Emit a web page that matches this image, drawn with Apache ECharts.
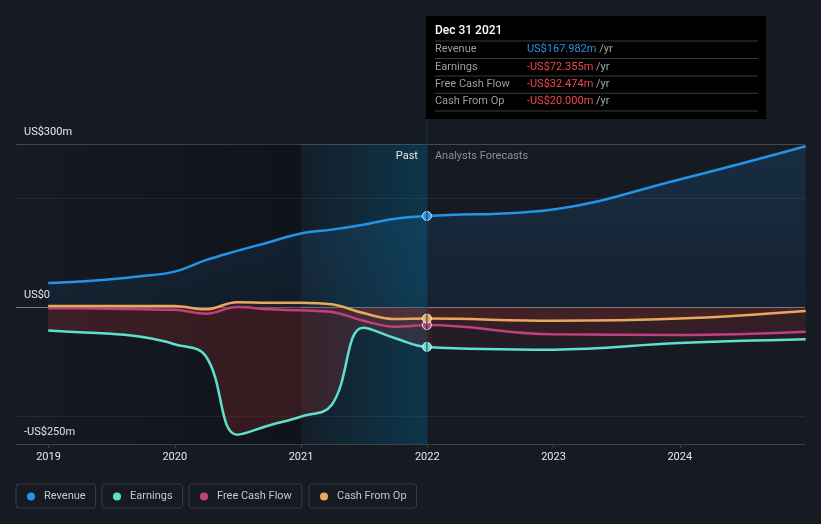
<!DOCTYPE html>
<html><head><meta charset="utf-8">
<script src="https://cdn.jsdelivr.net/npm/echarts@6/dist/echarts.min.js"></script>
<style>html,body{margin:0;padding:0;background:#151a23;}#c{width:821px;height:524px;}</style>
</head><body><div id="c"></div>
<script>
// ---- data ----
const pastDates = ['2018-12-31','2019-03-31','2019-06-30','2019-09-30','2019-12-31','2020-03-31','2020-06-30','2020-09-30','2020-12-31','2021-03-31','2021-06-30','2021-09-30','2021-12-31'];
const forecastDates = ['2022-12-31','2023-12-31','2024-12-31'];
const revenuePast = [45,48,52,58,66,87,104,120,136,143,152,163,168];
const revenueForecast = [180,235,296];
const earningsPast = [-42,-45,-48,-54,-67,-89,-233,-216,-200,-178,-37,-56,-72];
const earningsForecast = [-77,-65,-58];
const fcfPast = [-1,-1,-2,-3,-4,-11,1,-3,-5,-8,-24,-35,-32];
const fcfForecast = [-49,-50,-44];
const cfoPast = [3,3,3,3,3,-3,10,9,9,6,-10,-21,-20];
const cfoForecast = [-24,-20,-6];
const seriesNames = ['Revenue','Earnings','Free Cash Flow','Cash From Op'];
const xTickValues = [2019,2020,2021,2022,2023,2024];
const yTickValues = [-250,0,300];
const yTickLabels = ['-US$250m','US$0','US$300m'];
const tooltipDate = 'Dec 31 2021';
const tooltipValues = ['US$167.982m','-US$72.355m','-US$32.474m','-US$20.000m'];
const xStart = '2018-09-29', xEnd = '2024-12-29', lastYearStart = '2021-01-01', presentDate = '2021-12-31';

function toYear(s){
  const [y,m,d] = s.split('-').map(Number);
  const t = Date.UTC(y,m-1,d), a = Date.UTC(y,0,1), b = Date.UTC(y+1,0,1);
  return y + (t-a)/(b-a);
}
const allDates = pastDates.concat(forecastDates);
const dotIndex = pastDates.length - 1;
const colors = ['#2394e6','#5ee0d0','#c0407e','#e8a95c'];
const F = 'Roboto, "Noto Sans", sans-serif';

const firstX = toYear(allDates[0]), lastX = toYear(allDates[allDates.length-1]);
const presentFrac = (toYear(presentDate)-firstX)/(lastX-firstX);

function mkData(vals, color){
  return allDates.map((d,i)=> i===dotIndex
    ? {value:[toYear(d), vals[i]], symbol:'circle', symbolSize:9,
       itemStyle:{color, borderColor:'rgba(255,255,255,0.85)', borderWidth:1}}
    : [toYear(d), vals[i]]);
}
function mkSeries(idx, vals, areaColor, z){
  const color = colors[idx];
  return {name:seriesNames[idx], type:'line', smooth:0.4,
    symbol:'none', showSymbol:true, z,
    lineStyle:{color, width:2.5}, itemStyle:{color},
    areaStyle:{color:areaColor, origin:'auto'},
    emphasis:{disabled:true},
    data: mkData(vals, color)};
}
const LG = echarts.graphic.LinearGradient;
const revArea = new LG(0,0,0,1,[{offset:0,color:'rgba(33,150,243,0.22)'},{offset:1,color:'rgba(33,150,243,0.09)'}]);
const earnArea = new LG(0,0,1,0,[{offset:0,color:'rgba(170,50,50,0.36)'},{offset:presentFrac,color:'rgba(170,50,50,0.33)'},{offset:Math.min(1,presentFrac+0.01),color:'rgba(170,50,50,0.14)'},{offset:1,color:'rgba(170,50,50,0.14)'}]);
const fcfArea = 'rgba(170,50,50,0.18)';
const cfoArea = 'rgba(170,50,50,0.18)';

const splitColors = ['transparent','#252b34','transparent','transparent','transparent','#7c7f85',
  'transparent','transparent','transparent','#252b34','transparent','#464b53'];

const chart = echarts.init(document.getElementById('c'), null, {renderer:'canvas'});
const option = {
  backgroundColor:'#151a23',
  animation:false,
  textStyle:{fontFamily:F},
  grid:{left:16, right:16, top:144, bottom:80},
  xAxis:{type:'value', min:toYear(xStart), max:toYear(xEnd),
    axisLine:{show:true, onZero:false, lineStyle:{color:'#3d424a'}},
    axisTick:{show:true, customValues:xTickValues, length:4, lineStyle:{color:'#3d424a'}},
    axisLabel:{customValues:xTickValues, formatter:v=>String(Math.round(v)), color:'#e8e8e8', fontSize:11, margin:8, fontFamily:F},
    splitLine:{show:false}},
  yAxis:{type:'value', min:-250, max:300, interval:50,
    axisLine:{show:false, onZero:false}, axisTick:{show:false},
    splitLine:{show:true, lineStyle:{color:splitColors, width:1}},
    axisLabel:{inside:true, customValues:yTickValues, formatter:v=>yTickLabels[yTickValues.indexOf(v)],
      color:'#e8e8e8', fontSize:11, fontFamily:F, verticalAlign:'bottom', lineHeight:14, padding:[0,0,5,0], margin:8}},
  legend: seriesNames.map((n,i)=>({data:[n], left:[16,102,189,309][i], top:484, icon:'circle',
    itemWidth:8, itemHeight:8, padding:[7,10,6,11], borderColor:'#3a3f47', borderWidth:1, borderRadius:3,
    textStyle:{color:'#c8c8c8', fontSize:11, fontFamily:F, padding:[0,0,0,4]}, selectedMode:false})),
  series:[
    {type:'line', data:[], z:0, silent:true, markArea:{silent:true, data:[
      [{xAxis:toYear(xStart), itemStyle:{color:new LG(0,0,1,0,[{offset:0,color:'rgba(0,0,0,0)'},{offset:1,color:'rgba(0,0,0,0.28)'}])}},{xAxis:toYear(lastYearStart)}],
      [{xAxis:toYear(lastYearStart), itemStyle:{color:new LG(0,0,1,0,[{offset:0,color:'rgba(0,100,140,0.05)'},{offset:1,color:'rgba(0,100,140,0.38)'}])}},{xAxis:toYear(presentDate)}]
    ]}},
    mkSeries(0, revenuePast.concat(revenueForecast), revArea, 2),
    mkSeries(1, earningsPast.concat(earningsForecast), earnArea, 3),
    mkSeries(2, fcfPast.concat(fcfForecast), fcfArea, 4),
    mkSeries(3, cfoPast.concat(cfoForecast), cfoArea, 5)
  ]
};
chart.setOption(option);

// overlay: divider line, past/forecast labels, tooltip box
const px = chart.convertToPixel({gridIndex:0},[toYear(presentDate),0])[0];
const yBottom = chart.convertToPixel({gridIndex:0},[toYear(presentDate),-250])[1];
const yTop = chart.convertToPixel({gridIndex:0},[toYear(presentDate),300])[1];
const rowLabelColor = '#9a9ea4';
const valueColors = [colors[0],'#f04848','#f04848','#f04848'];
const g = [];
g.push({type:'line', shape:{x1:px, y1:119, x2:px, y2:yBottom}, style:{stroke:'#133a4a', lineWidth:1}, z:100});
g.push({type:'text', x:px-9, y:yTop+12, style:{text:'Past', fill:'#e8e8e8', font:'11px '+F, align:'right', verticalAlign:'middle'}, z:100});
g.push({type:'text', x:px+8, y:yTop+12, style:{text:'Analysts Forecasts', fill:'#8a9099', font:'11px '+F, align:'left', verticalAlign:'middle'}, z:100});
g.push({type:'rect', shape:{x:px-1, y:16, width:340, height:103}, style:{fill:'#000'}, z:100});
g.push({type:'text', x:px+8, y:31, style:{text:tooltipDate, fill:'#ffffff', font:'500 12px '+F, verticalAlign:'middle'}, z:101});
const sepYs = [41,58.5,76,93.3,111];
sepYs.forEach(y=> g.push({type:'line', shape:{x1:px+8, y1:y, x2:px+331, y2:y}, style:{stroke:'#3a3a3a', lineWidth:1}, z:101}));
seriesNames.forEach((n,i)=>{
  const cy = 49.5 + i*17.3;
  g.push({type:'text', x:px+8, y:cy, style:{text:n, fill:rowLabelColor, font:'11px '+F, verticalAlign:'middle'}, z:101});
  g.push({type:'text', x:px+100, y:cy, style:{text:'{v|'+tooltipValues[i]+'} {u|/yr}', font:'11px '+F, verticalAlign:'middle',
    rich:{v:{fill:valueColors[i], font:'11px '+F}, u:{fill:'#a8a8a8', font:'11px '+F}}}, z:101});
});
chart.setOption({graphic:g});
</script></body></html>
